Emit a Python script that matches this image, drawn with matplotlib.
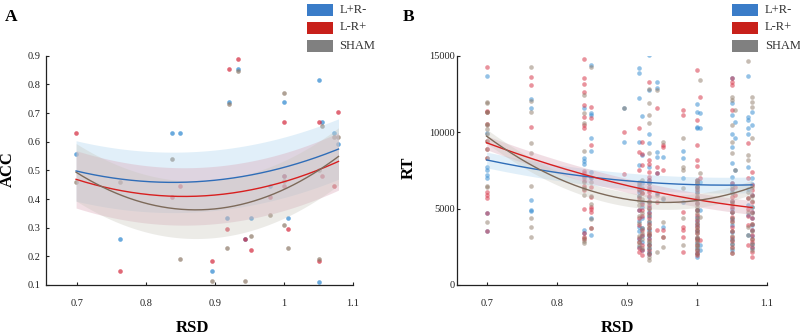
import numpy as np
import matplotlib
matplotlib.use("Agg")
import matplotlib.pyplot as plt
from matplotlib.patches import Rectangle

plt.rcParams['font.family'] = ['Liberation Serif', 'DejaVu Serif']

# ---------------- Panel A data (ACC vs RSD) ----------------
acc_x_blue = [0.699, 0.762, 0.838, 0.849, 0.896, 0.917, 0.921, 0.933, 0.943, 0.953,
              0.980, 1.000, 1.000, 1.006, 1.051, 1.051, 1.055, 1.073, 1.079]
acc_y_blue = [0.556, 0.259, 0.630, 0.630, 0.148, 0.333, 0.740, 0.852, 0.260, 0.333,
              0.445, 0.740, 0.481, 0.333, 0.815, 0.111, 0.667, 0.630, 0.593]
acc_x_red = [0.699, 0.762, 0.838, 0.849, 0.896, 0.917, 0.921, 0.933, 0.943, 0.953,
             0.980, 1.000, 1.000, 1.000, 1.006, 1.051, 1.051, 1.055, 1.073, 1.079]
acc_y_red = [0.630, 0.148, 0.407, 0.445, 0.185, 0.296, 0.852, 0.889, 0.260, 0.222,
             0.407, 0.667, 0.481, 0.445, 0.296, 0.667, 0.185, 0.481, 0.445, 0.704]
acc_x_gray = [0.699, 0.762, 0.838, 0.849, 0.896, 0.917, 0.921, 0.933, 0.943, 0.953,
              0.980, 1.000, 1.000, 1.000, 1.006, 1.051, 1.051, 1.055, 1.073, 1.079]
acc_y_gray = [0.460, 0.460, 0.538, 0.192, 0.115, 0.230, 0.730, 0.848, 0.115, 0.270,
              0.345, 0.770, 0.463, 0.308, 0.230, 0.500, 0.192, 0.655, 0.615, 0.615]

# ---------------- Panel B data (RT vs RSD), per subject column ----------------
rsd_cols = [0.699, 0.762, 0.838, 0.849, 0.896, 0.917, 0.921, 0.932, 0.943, 0.952,
            0.980, 1.000, 1.005, 1.051, 1.055, 1.073, 1.079]
rt_blue = [
    [13700, 9960, 7730, 7550, 7190, 6970, 4680, 3530],
    [12200, 11550, 5560, 4900, 4850],
    [11550, 8280, 8100, 7890, 3590, 3380],
    [14380, 11220, 11100, 9590, 8760, 7410, 6970, 4360, 3270],
    [11590, 9370],
    [14200, 13900, 12240, 9370, 7840, 3810, 6500, 6100, 5800, 4900, 4200, 3500, 3000, 2500],
    [11070, 8500, 5450, 2800, 6700, 6300, 5100, 4400, 3700, 3200, 2300],
    [15030, 12740, 9910, 9260, 7730, 6640, 5770, 4790, 4140, 3050, 2180,
     6900, 6300, 5400, 4500, 3600, 3300, 2700, 2400, 2000, 5100],
    [13290, 12860, 8720, 8350, 7300, 6040],
    [8390, 5600, 3810],
    [8760, 8280, 6970, 5450],
    [11810, 11330, 10350, 10240, 6430, 5340, 4470, 2720, 2070, 1850,
     6800, 6100, 5700, 4900, 3900, 3100, 2400, 4200, 3500],
    [11220, 10240, 6750, 4900, 2610, 2290],
    [13510, 11880, 11110, 9910, 9040, 7950, 7080, 6100, 4790, 3490,
     6700, 6300, 5500, 5000, 4300, 3900, 3000, 2700, 2300],
    [10680, 9590, 7520],
    [13680, 11000, 10780, 10240, 9910, 7730, 5230, 6300, 4600, 3300],
    [11330, 10460, 6970, 4360, 3590, 6600, 5900, 5100, 4800, 3900, 3200, 2700, 2400],
]
rt_red = [
    [14270, 11390, 11330, 10500, 9430, 8870, 8280, 6100, 5900, 5710, 4680, 3560],
    [13620, 13070, 10350],
    [14770, 13510, 13180, 12640, 11800, 11000, 10450, 10240, 7450, 7300, 3160,
     7100, 6800, 6500, 6200, 5000, 3400, 3000],
    [11660, 10940, 9150, 6430, 5770, 5120, 5000, 4790, 3750],
    [9980, 7250],
    [10240, 8710, 7520, 5660, 4360, 3050, 2180, 6300, 4900, 3900, 2800, 2400],
    [9370, 8600, 7840, 6000, 4900, 3590, 2610, 1960, 5300, 4500, 3300, 2300],
    [13290, 8170, 7900, 7410, 7080, 6860, 6430, 6100, 5230, 5010, 4360, 3700, 3270, 2610,
     5800, 5500, 4700, 4000, 3400, 3000, 2300, 2000],
    [11550, 7740, 7300, 5450, 3590],
    [9150, 9000, 7520, 3590, 3160],
    [11440, 11110, 4790, 3810, 3590, 3160, 2180],
    [14050, 10780, 9190, 8170, 7800, 6640, 6210, 5770, 5340, 4900, 4250, 3810, 3380, 2940, 2290,
     6900, 6400, 5600, 4600, 4000, 3600, 3100, 2600, 2100, 1950],
    [12310, 7020, 2940],
    [13510, 13290, 13070, 11440, 6640, 5770, 5120, 4470, 3810, 3160,
     6300, 5500, 4800, 4200, 3500, 2900, 2500, 2100],
    [6400, 5900],
    [9260, 6970, 5660, 3920, 5000, 4500, 2600],
    [7410, 6540, 4790, 3590, 2830, 2500, 2180, 1850, 6200, 5900, 5400, 4400, 4000, 3300, 3000],
]
rt_gray = [
    [11920, 10450, 8300, 6470, 6400, 4140, 11330, 10500, 9430, 8870, 11300, 12000, 10200, 9900],
    [14270, 12050, 11330, 9300, 8650, 6470, 4360, 3810, 3160],
    [12420, 11220, 10570, 8760, 6970, 6750, 6320, 2720, 6300, 5900, 3100, 2900],
    [14230, 7080, 6750, 3700, 5800, 5300, 4300],
    [11590],
    [6750, 5230, 4030, 2830, 4500, 6600, 6200, 5800, 5500, 3200, 2600],
    [6320, 4680, 3380, 2400, 3700, 6900, 6000, 5600, 3000],
    [12850, 11900, 11110, 10610, 8610, 5450, 4580, 3920, 3490, 2830, 2400, 1850, 1630,
     6700, 6200, 5000, 4200, 3300, 2600, 2100, 3700, 2900],
    [12750, 5880, 2140],
    [9380, 5670, 4140, 3160, 2500],
    [9630, 7730, 7520, 6320, 4360, 2610],
    [6860, 6640, 5990, 5560, 5120, 4680, 4030, 3590, 3160, 2510,
     6700, 6500, 6300, 5800, 5300, 4900, 4400, 3800, 3400, 2800, 2300, 2000, 3000, 2600],
    [13400, 7300, 4470],
    [12310, 12100, 10460, 9370, 8610, 5450, 4140, 2940, 2660,
     6500, 6000, 5300, 4800, 4400, 3500, 3200, 2400, 2100],
    [11440, 7500],
    [14640, 8500, 8170, 6100, 3270, 5700, 4800, 3800],
    [12310, 11980, 11660, 9630, 5100, 6400, 5800, 5500, 4700, 4000, 3500, 3000, 2700, 2300],
]

groups = ["L+R-", "L-R+", "SHAM"]
dot_colors = ["#2b86cf", "#d4283c", "#8e7a68"]
line_colors = ["#2f6db8", "#d81f1f", "#7d6a5a"]
band_colors = ["#a9d3ee", "#d9a3b4", "#c9c7bd"]
legend_colors = ["#3a7cc8", "#c8201a", "#808080"]


def expand(cols, vals):
    xs, ys = [], []
    for c, v in zip(cols, vals):
        xs += [c] * len(v)
        ys += list(v)
    return np.array(xs), np.array(ys, dtype=float)


def quad_fit(x, y, xg):
    """Quadratic least-squares fit; band = 95% interval of the residual standard error of the mean."""
    x = np.asarray(x, float)
    y = np.asarray(y, float)
    coef = np.polyfit(x, y, 2)
    resid = y - np.polyval(coef, x)
    s = np.sqrt(resid @ resid / max(len(x) - 3, 1))
    half = 1.96 * s / np.sqrt(len(x))
    return np.polyval(coef, xg), half


fig = plt.figure(figsize=(8, 3.36), dpi=100)
axA = fig.add_axes([45.7 / 800, 51 / 336, 307.3 / 800, 229.3 / 336])
axB = fig.add_axes([457.3 / 800, 51 / 336, 309.4 / 800, 229.3 / 336])

dataA = [(acc_x_blue, acc_y_blue), (acc_x_red, acc_y_red), (acc_x_gray, acc_y_gray)]
dataB = [expand(rsd_cols, rt_blue), expand(rsd_cols, rt_red), expand(rsd_cols, rt_gray)]

for ax, data, dot_alpha in [(axA, dataA, 0.7), (axB, dataB, 0.5)]:
    for i, (x, y) in enumerate(data):
        ax.scatter(x, y, s=11, color=dot_colors[i], alpha=dot_alpha, linewidths=0, zorder=1)
    fits = []
    for i, (x, y) in enumerate(data):
        xg = np.linspace(min(x), max(x), 200)
        yg, half = quad_fit(x, y, xg)
        fits.append((xg, yg))
        ax.fill_between(xg, yg - half, yg + half, color=band_colors[i], alpha=0.35,
                        linewidth=0, zorder=2)
    for i, (xg, yg) in enumerate(fits):
        ax.plot(xg, yg, color=line_colors[i], lw=1.0, zorder=3)

# axes styling
xt = [0.7, 0.8, 0.9, 1.0, 1.1]
xtl = ["0.7", "0.8", "0.9", "1", "1.1"]
for ax in (axA, axB):
    for sp in ("top", "right"):
        ax.spines[sp].set_visible(False)
    for sp in ("left", "bottom"):
        ax.spines[sp].set_linewidth(0.9)
        ax.spines[sp].set_color("#222222")
    ax.set_xticks(xt)
    ax.set_xticklabels(xtl)
    ax.tick_params(direction="in", length=2.5, width=0.8, labelsize=7.5,
                   colors="#222222")
    ax.tick_params(axis="x", pad=10)

axA.set_xlim(0.655, 1.1)
axA.set_ylim(0.1, 0.9)
axA.set_yticks([0.1, 0.2, 0.3, 0.4, 0.5, 0.6, 0.7, 0.8, 0.9])
axA.set_yticklabels(["0.1", "0.2", "0.3", "0.4", "0.5", "0.6", "0.7", "0.8", "0.9"])
axA.tick_params(axis="y", pad=4)

axB.set_xlim(0.657, 1.1)
axB.set_ylim(0, 15000)
axB.set_yticks([0, 5000, 10000, 15000])
axB.set_yticklabels(["0", "5000", "10000", "15000"])
axB.tick_params(axis="y", pad=2)

# labels
fig.text(7.5 / 800, 1 - 169 / 336, "ACC", rotation=90, ha="center", va="center",
         fontsize=12, fontweight="bold")
fig.text(409 / 800, 1 - 167.5 / 336, "RT", rotation=90, ha="center", va="center",
         fontsize=12, fontweight="bold")
fig.text(193 / 800, 0.0, "RSD", ha="center", va="bottom", fontsize=12, fontweight="bold")
fig.text(618 / 800, 0.0, "RSD", ha="center", va="bottom", fontsize=12, fontweight="bold")
fig.text(5 / 800, 1 - 21 / 336, "A", ha="left", va="baseline", fontsize=12.5, fontweight="bold")
fig.text(403 / 800, 1 - 21 / 336, "B", ha="left", va="baseline", fontsize=12.5, fontweight="bold")

# legends
row_tops = [4, 21.5, 40]
for px_rect, px_text in [(307, 339.5), (732.3, 765)]:
    for i, top in enumerate(row_tops):
        h = 12
        fig.add_artist(Rectangle((px_rect / 800, 1 - (top + h) / 336), 25.5 / 800, h / 336,
                                 transform=fig.transFigure, facecolor=legend_colors[i],
                                 edgecolor="none"))
        fig.text(px_text / 800, 1 - (top + h / 2) / 336, groups[i], ha="left", va="center",
                 fontsize=9, color="#333333")

fig.savefig("out.png", dpi=100)
